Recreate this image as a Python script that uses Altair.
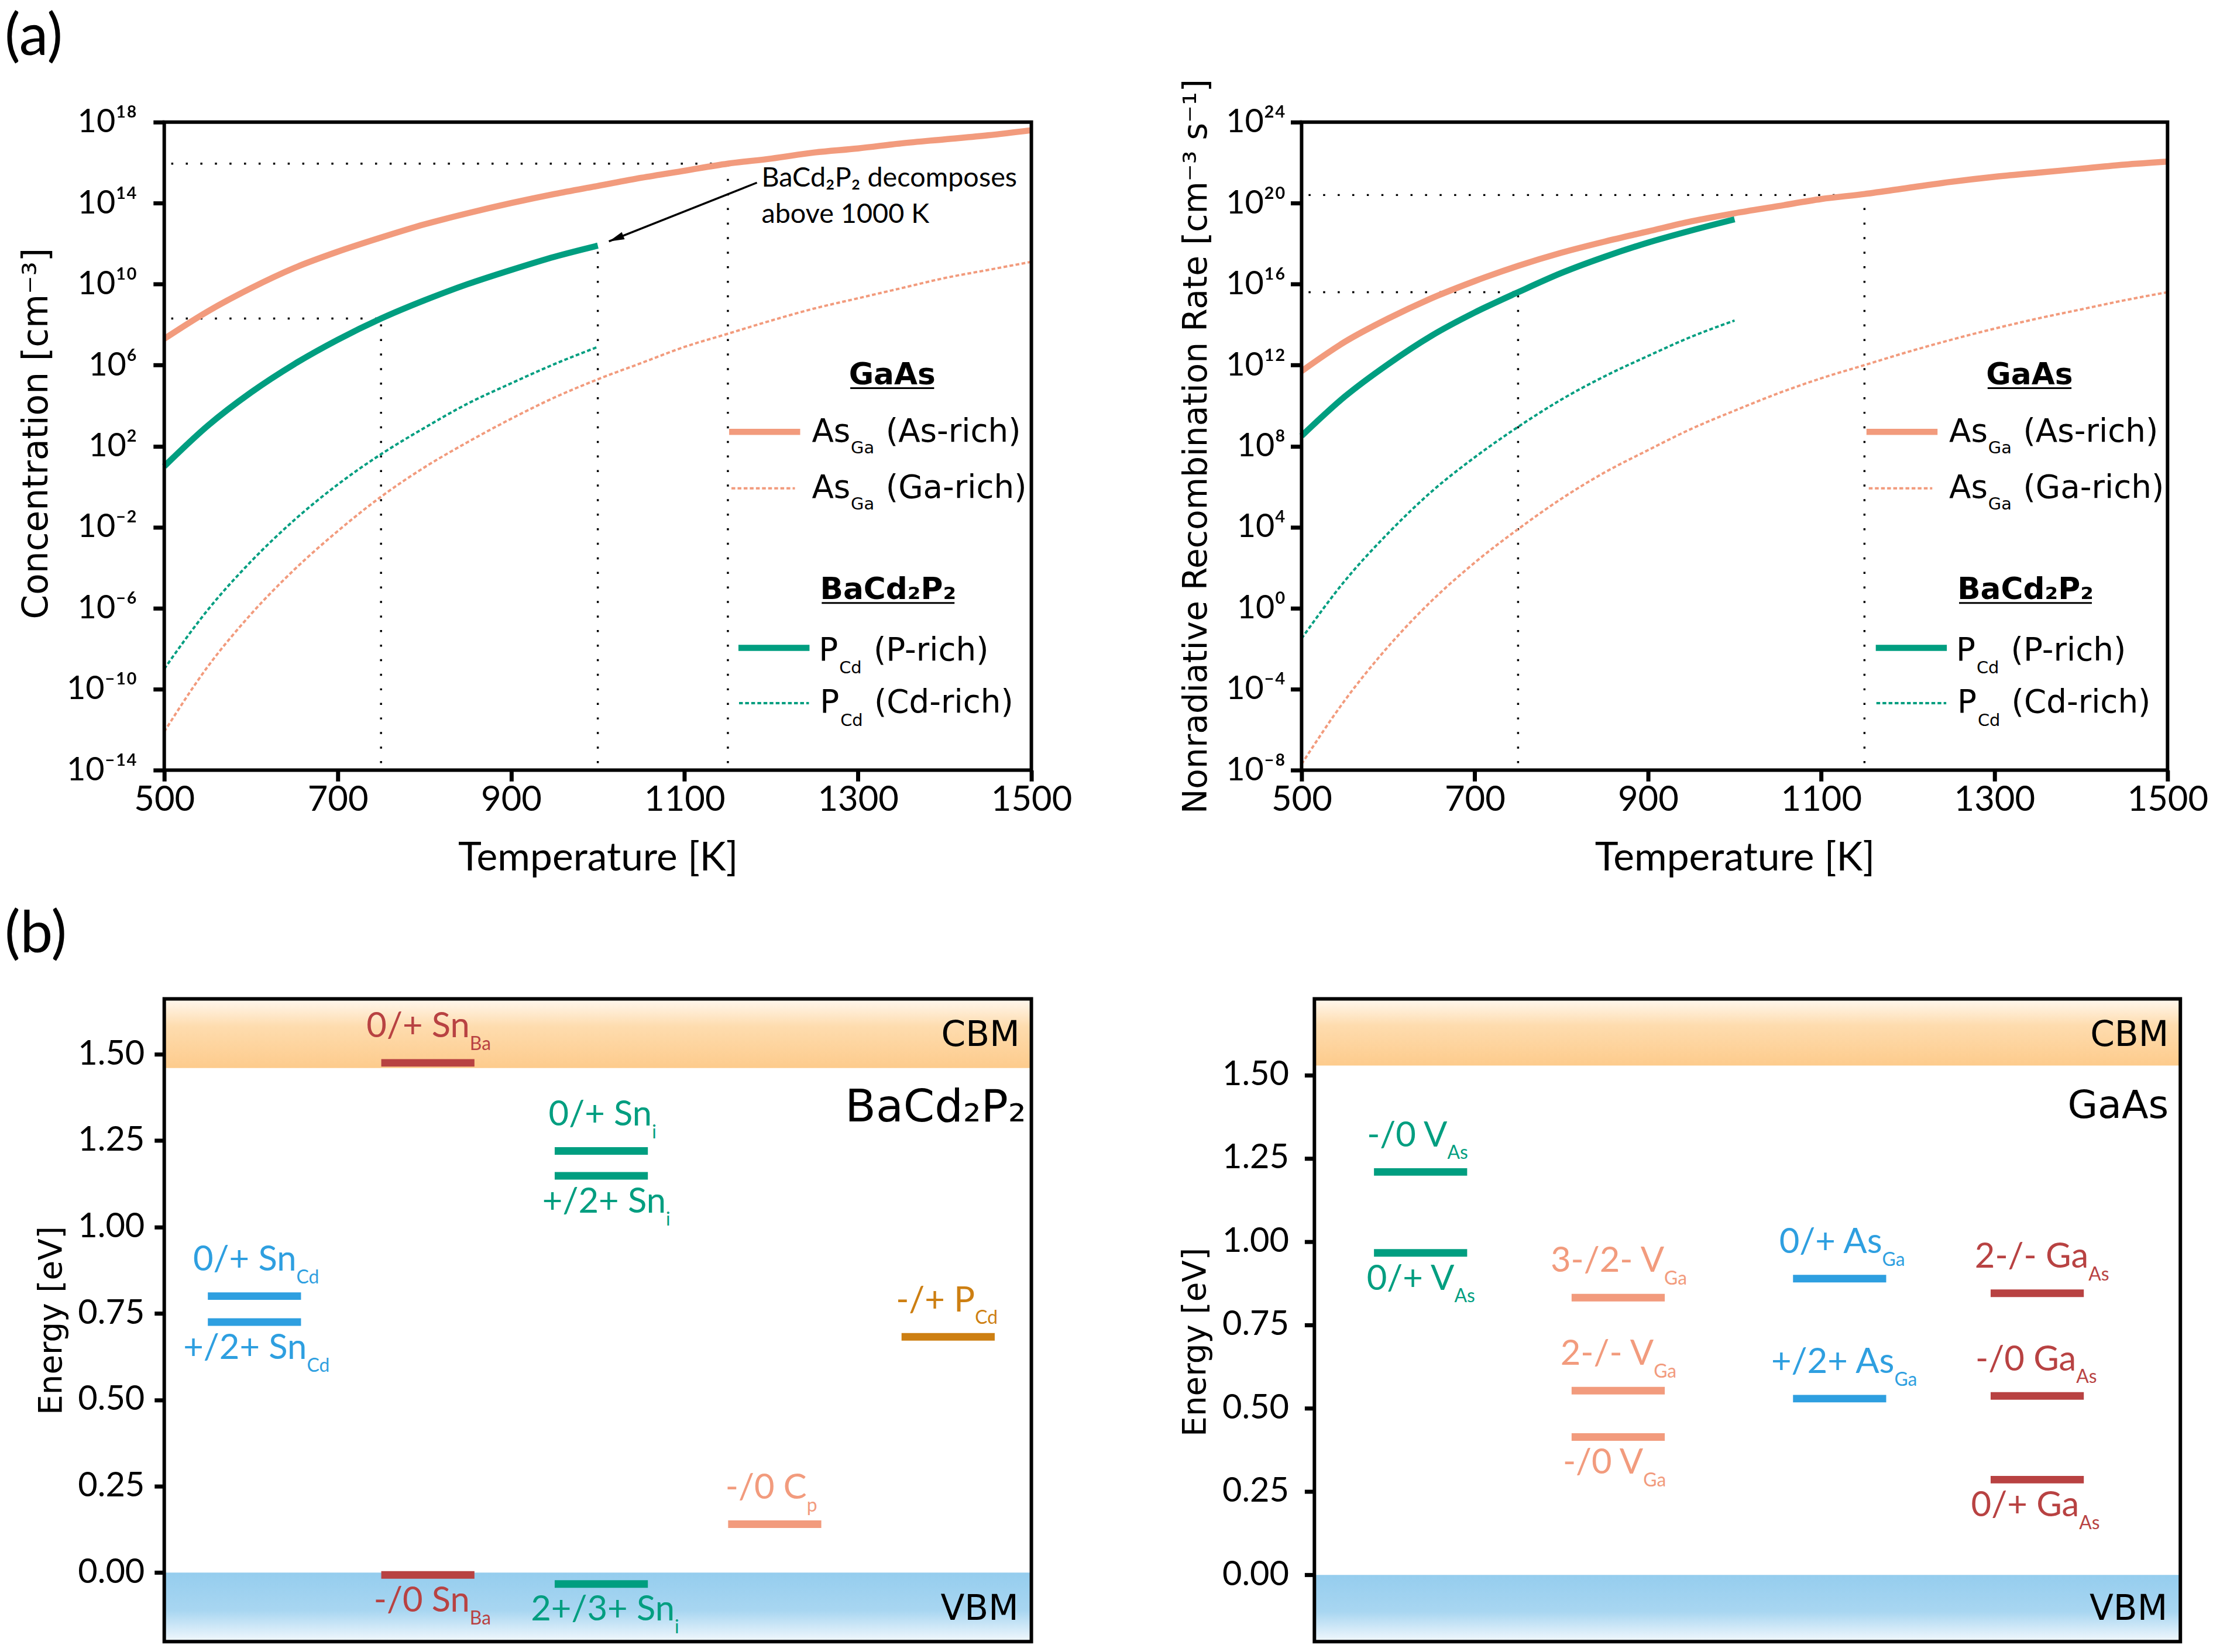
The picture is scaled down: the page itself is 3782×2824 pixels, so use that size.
import altair as alt
import pandas as pd

# ---------------- data ----------------
T_GAAS = [500, 550, 600, 650, 700, 750, 800, 850, 900, 950, 1000,
          1050, 1100, 1150, 1200, 1250, 1300, 1350, 1400, 1450, 1500]
T_BCP = [500, 550, 600, 650, 700, 750, 800, 850, 900, 950, 1000]

# log10 of defect concentration [cm^-3]
CONC_ASGA_ASRICH = [7.3, 8.65, 9.8, 10.8, 11.6, 12.3, 12.95, 13.5, 14.0, 14.45, 14.85,
                    15.25, 15.6, 15.95, 16.2, 16.5, 16.7, 16.95, 17.15, 17.35, 17.6]
CONC_ASGA_GARICH = [-12.1, -8.9, -6.3, -4.1, -2.2, -0.5, 0.95, 2.2, 3.35, 4.4, 5.3,
                    6.1, 6.9, 7.55, 8.2, 8.8, 9.3, 9.8, 10.3, 10.7, 11.1]
CONC_PCD_PRICH = [1.0, 3.0, 4.65, 6.05, 7.25, 8.3, 9.2, 10.0, 10.7, 11.35, 11.9]
CONC_PCD_CDRICH = [-9.0, -6.1, -3.7, -1.65, 0.1, 1.6, 2.9, 4.1, 5.1, 6.05, 6.9]

# log10 of nonradiative recombination rate [cm^-3 s^-1]
RATE_ASGA_ASRICH = [11.7, 13.15, 14.3, 15.3, 16.15, 16.9, 17.55, 18.1, 18.6, 19.1, 19.5,
                    19.85, 20.2, 20.45, 20.75, 21.05, 21.3, 21.5, 21.7, 21.9, 22.05]
RATE_ASGA_GARICH = [-7.7, -4.55, -1.9, 0.35, 2.25, 3.9, 5.4, 6.7, 7.8, 8.85, 9.75,
                    10.6, 11.35, 12.0, 12.65, 13.25, 13.8, 14.3, 14.75, 15.2, 15.6]
RATE_PCD_PRICH = [8.5, 10.45, 12.05, 13.45, 14.6, 15.6, 16.55, 17.35, 18.05, 18.65, 19.2]
RATE_PCD_CDRICH = [-1.5, 1.35, 3.7, 5.75, 7.45, 8.95, 10.3, 11.45, 12.45, 13.4, 14.2]

# guide markers (temperature, log10 value)
CONC_GUIDE_T = [750, 1150]
CONC_GUIDE_LOG = [8.3, 15.95]
DECOMP_T = 1000
DECOMP_LOG = 11.9
RATE_GUIDE_T = [750, 1150]
RATE_GUIDE_LOG = [15.6, 20.4]

# defect levels BaCd2P2 [eV]
BCP_GAP = 1.46
BCP_DEFECT = ["Sn_Cd", "Sn_Cd", "Sn_Ba", "Sn_Ba", "Sn_i", "Sn_i", "Sn_i", "C_p", "P_Cd"]
BCP_TRANSITION = ["0/+", "+/2+", "0/+", "-/0", "0/+", "+/2+", "2+/3+", "-/0", "-/+"]
BCP_LEVEL = [0.80, 0.725, 1.475, -0.007, 1.22, 1.148, -0.033, 0.14, 0.682]

# defect levels GaAs [eV]
GAAS_GAP = 1.528
GAAS_DEFECT = ["V_As", "V_As", "V_Ga", "V_Ga", "V_Ga", "As_Ga", "As_Ga", "Ga_As", "Ga_As", "Ga_As"]
GAAS_TRANSITION = ["-/0", "0/+", "3-/2-", "2-/-", "-/0", "0/+", "+/2+", "2-/-", "-/0", "0/+"]
GAAS_LEVEL = [1.209, 0.966, 0.832, 0.553, 0.414, 0.889, 0.529, 0.845, 0.537, 0.286]

# ---------------- styling / layout ----------------
SALMON = "#F29B7D"
GREEN = "#009E80"
BLUE = "#2E9FE0"
RED = "#B84242"
ORANGE = "#CD7F12"

BCP_COLOR = {"Sn_Cd": BLUE, "Sn_Ba": RED, "Sn_i": GREEN, "C_p": SALMON, "P_Cd": ORANGE}
GAAS_COLOR = {"V_As": GREEN, "V_Ga": SALMON, "As_Ga": BLUE, "Ga_As": RED}
BCP_COLUMN = {"Sn_Cd": 0.104, "Sn_Ba": 0.304, "Sn_i": 0.504, "C_p": 0.704, "P_Cd": 0.904}
GAAS_COLUMN = {"V_As": 0.1226, "V_Ga": 0.3508, "As_Ga": 0.6065, "Ga_As": 0.8347}
BCP_SIDE = ["above", "below", "above", "below", "above", "below", "below", "above", "above"]
BCP_SHIFT = [72, 90, 72, 72, 87, 111, 126, 55, 46]
GAAS_SIDE = ["above", "below", "above", "above", "below", "above", "above", "above", "above", "below"]
GAAS_SHIFT = [46, 58, 79, 61, 43, 73, 94, 88, 67, 72]

W_LEFT, W_RIGHT, H_TOP, H_BOT = 1489, 1487, 1113, 1104
BR_INDENT = 22
LABEL_FONT = "Lato"
TITLE_FONT = "DejaVu Sans"

ONE = pd.DataFrame({"k": [0]})
SUP = str.maketrans("0123456789-", "⁰¹²³⁴⁵⁶⁷⁸⁹⁻")


def ptext(text, x, y, size, font=TITLE_FONT, align="left", baseline="alphabetic",
          weight="normal", color="black"):
    return alt.Chart(ONE).mark_text(
        text=text, font=font, fontSize=size, align=align, baseline=baseline,
        fontWeight=weight, color=color
    ).encode(x=alt.value(x), y=alt.value(y))


def prule(x1, x2, y1, y2, color="black", width=3.0, dash=None):
    kw = dict(color=color, strokeWidth=width, strokeCap="butt")
    if dash:
        kw["strokeDash"] = dash
    return alt.Chart(ONE).mark_rule(**kw).encode(
        x=alt.value(x1), x2=alt.value(x2), y=alt.value(y1), y2=alt.value(y2))


def frame(x0, W, H):
    return alt.Chart(ONE).mark_rect(fillOpacity=0, stroke="black", strokeWidth=6).encode(
        x=alt.value(x0), x2=alt.value(x0 + W), y=alt.value(0), y2=alt.value(H))


def legend_layers():
    L = []
    L.append(ptext("GaAs", 1250, 450, 52, weight="bold", align="center"))
    L.append(prule(1178, 1322, 457, 457, width=3))
    L.append(prule(970, 1092, 532, 532, color=SALMON, width=10.5))
    L += [ptext("As", 1112, 549, 55), ptext("Ga", 1179, 569, 29), ptext("(As-rich)", 1239, 549, 55)]
    L.append(prule(974, 1083, 629, 629, color=SALMON, width=4, dash=[6.5, 4]))
    L += [ptext("As", 1112, 645, 55), ptext("Ga", 1179, 665, 29), ptext("(Ga-rich)", 1239, 645, 55)]
    L.append(ptext("BaCd₂P₂", 1243, 819, 52, weight="bold", align="center"))
    L.append(prule(1129, 1357, 826, 826, width=3))
    L.append(prule(986, 1108, 903, 903, color=GREEN, width=10.5))
    L += [ptext("P", 1124, 925, 55), ptext("Cd", 1159, 947, 29), ptext("(P-rich)", 1218, 925, 55)]
    L.append(prule(987, 1107, 998, 998, color=GREEN, width=4, dash=[6.5, 4]))
    L += [ptext("P", 1126, 1014, 55), ptext("Cd", 1161, 1037, 29), ptext("(Cd-rich)", 1219, 1014, 55)]
    return L


def top_panel(curves, guides, lo, hi, ytitle, W, H, ytitle_x, ytitle_y, ytitle_size, lab_pad, extra=()):
    exps = list(range(lo, hi + 1, 4))
    arr = ",".join("'10" + str(e).translate(SUP) + "'" for e in exps)
    lexpr = f"[{arr}][round((log(datum.value)/LN10 - ({lo}))/4)]"
    xs = alt.Scale(domain=[500, 1500], nice=False, zero=False)
    ys = alt.Scale(type="log", domain=[10.0 ** lo, 10.0 ** hi], nice=False)
    xaxis = alt.Axis(values=[500, 700, 900, 1100, 1300, 1500], format="d", title="Temperature [K]",
                     domain=False, grid=False, tickColor="black", tickWidth=7, tickSize=19,
                     labelFont=LABEL_FONT, labelFontSize=60, labelColor="black", labelPadding=3,
                     labelOverlap=False, labelFlush=False,
                     titleFont=LABEL_FONT, titleFontSize=68, titleFontWeight="normal", titleColor="black",
                     titleX=W / 2, titleY=172, titleAlign="center", titleBaseline="alphabetic")
    yaxis = alt.Axis(values=[10.0 ** e for e in exps], labelExpr=lexpr, title=ytitle,
                     domain=False, grid=False, tickColor="black", tickWidth=7, tickSize=19,
                     labelFont=LABEL_FONT, labelFontSize=56, labelColor="black", labelPadding=lab_pad,
                     labelOverlap=False, labelFlush=False,
                     titleFont=TITLE_FONT, titleFontSize=ytitle_size, titleFontWeight="normal",
                     titleColor="black", titleX=ytitle_x, titleY=ytitle_y, titleAngle=270,
                     titleAlign="center", titleBaseline="middle")

    def X(f):
        return alt.X(f"{f}:Q", scale=xs, axis=xaxis)

    def Y(f):
        return alt.Y(f"{f}:Q", scale=ys, axis=yaxis)

    gdf = pd.DataFrame(guides, columns=["T1", "T2", "v1", "v2"])
    guide = alt.Chart(gdf).mark_rule(color="black", strokeWidth=3.5, strokeDash=[3.5, 21.5],
                                     strokeDashOffset=13, strokeCap="butt").encode(
        x=X("T1"), x2="T2", y=Y("v1"), y2="v2")

    cdf = pd.DataFrame(curves)
    dashed = alt.Chart(cdf[cdf["style"] == "dash"]).mark_line(
        strokeWidth=4, strokeDash=[6.5, 4], interpolate="monotone").encode(
        x=X("T"), y=Y("v"), color=alt.Color("c:N", scale=None), detail="s:N")
    solid_s = alt.Chart(cdf[(cdf["style"] == "solid") & (cdf["c"] == SALMON)]).mark_line(
        strokeWidth=10.5, color=SALMON, interpolate="monotone").encode(x=X("T"), y=Y("v"))
    solid_g = alt.Chart(cdf[(cdf["style"] == "solid") & (cdf["c"] == GREEN)]).mark_line(
        strokeWidth=10.5, color=GREEN, interpolate="monotone").encode(x=X("T"), y=Y("v"))

    layers = [guide, dashed, solid_s, solid_g]
    for f in extra:
        layers.append(f(X, Y))
    layers += legend_layers()
    layers.append(frame(0, W, H))
    return alt.layer(*layers).properties(width=W, height=H)


def curve_rows(T, logs, name, color, style):
    return [dict(T=t, v=10.0 ** l, s=name, c=color, style=style) for t, l in zip(T, logs)]


def annotation(X, Y):
    adf = pd.DataFrame({"T": [1188.8, 1188.8], "v": [10.0 ** 14.81, 10.0 ** 13.03],
                        "t": ["BaCd₂P₂ decomposes", "above 1000 K"]})
    txt = alt.Chart(adf).mark_text(font=LABEL_FONT, fontSize=47, align="left",
                                   baseline="alphabetic", color="black").encode(
        x=X("T"), y=Y("v"), text="t:N")
    ar = pd.DataFrame({"T1": [1183.5], "T2": [1012.8], "v1": [10.0 ** 15.01], "v2": [10.0 ** 12.11]})
    line = alt.Chart(ar).mark_rule(color="black", strokeWidth=3.5).encode(
        x=X("T1"), x2="T2", y=Y("v1"), y2="v2")
    head = alt.Chart(ar).mark_point(shape="M0,0L0.5,2L-0.5,2Z", filled=True, color="black",
                                    opacity=1, size=700, angle=248.3).encode(x=X("T2"), y=Y("v2"))
    return alt.layer(txt, line, head)


def label_a(X, Y):
    return ptext("(a)", -274, -194, 100, font=LABEL_FONT, baseline="top")


# ---- top-left: concentration ----
conc_curves = (curve_rows(T_GAAS, CONC_ASGA_ASRICH, "AsGa As-rich", SALMON, "solid")
               + curve_rows(T_GAAS, CONC_ASGA_GARICH, "AsGa Ga-rich", SALMON, "dash")
               + curve_rows(T_BCP, CONC_PCD_PRICH, "PCd P-rich", GREEN, "solid")
               + curve_rows(T_BCP, CONC_PCD_CDRICH, "PCd Cd-rich", GREEN, "dash"))
conc_guides = []
for t, l in zip(CONC_GUIDE_T, CONC_GUIDE_LOG):
    conc_guides.append((500, t, 10.0 ** l, 10.0 ** l))
    conc_guides.append((t, t, 1e-14, 10.0 ** l))
conc_guides.append((DECOMP_T, DECOMP_T, 1e-14, 10.0 ** DECOMP_LOG))

tl = top_panel(conc_curves, conc_guides, -14, 18, "Concentration [cm⁻³]", W_LEFT, H_TOP,
               -219, H_TOP / 2 - 22, 60, 28, extra=(annotation, label_a))

# ---- top-right: recombination rate ----
rate_curves = (curve_rows(T_GAAS, RATE_ASGA_ASRICH, "AsGa As-rich", SALMON, "solid")
               + curve_rows(T_GAAS, RATE_ASGA_GARICH, "AsGa Ga-rich", SALMON, "dash")
               + curve_rows(T_BCP, RATE_PCD_PRICH, "PCd P-rich", GREEN, "solid")
               + curve_rows(T_BCP, RATE_PCD_CDRICH, "PCd Cd-rich", GREEN, "dash"))
rate_guides = []
for t, l in zip(RATE_GUIDE_T, RATE_GUIDE_LOG):
    rate_guides.append((500, t, 10.0 ** l, 10.0 ** l))
    rate_guides.append((t, t, 1e-8, 10.0 ** l))

tr = top_panel(rate_curves, rate_guides, -8, 24, "Nonradiative Recombination Rate [cm⁻³ s⁻¹]",
               W_RIGHT, H_TOP, -181, H_TOP / 2, 57, 9)


# ---------------- bottom panels ----------------
CBM_GRAD = alt.LinearGradient(gradient="linear", x1=0, x2=0, y1=0, y2=1, stops=[
    alt.GradientStop(color="#FFF8EF", offset=0),
    alt.GradientStop(color="#FEDCAE", offset=0.4),
    alt.GradientStop(color="#FDCB8C", offset=1)])
VBM_GRAD = alt.LinearGradient(gradient="linear", x1=0, x2=0, y1=0, y2=1, stops=[
    alt.GradientStop(color="#95CDEE", offset=0),
    alt.GradientStop(color="#A8D6F1", offset=0.55),
    alt.GradientStop(color="#F2F8FD", offset=1)])


def bottom_panel(defects, transitions, levels, gap, ymax, columns, colors, sides, shifts,
                 W, H, name, name_size, name_inset, name_base, title_x, title_y, lab_pad,
                 indent=0, panel_label=None):
    ys = alt.Scale(domain=[-0.2, ymax], nice=False, zero=False)
    xs = alt.Scale(domain=[-indent / W, 1], nice=False, zero=False)
    yaxis = alt.Axis(values=[0, 0.25, 0.5, 0.75, 1.0, 1.25, 1.5], format=".2f", title="Energy [eV]",
                     domain=False, grid=False, tickColor="black", tickWidth=7, tickSize=17,
                     labelFont=LABEL_FONT, labelFontSize=58, labelColor="black", labelPadding=lab_pad,
                     labelOverlap=False, labelFlush=False, offset=-indent,
                     titleFont=TITLE_FONT, titleFontSize=55, titleFontWeight="normal",
                     titleColor="black", titleX=title_x, titleY=title_y, titleAngle=270,
                     titleAlign="center", titleBaseline="middle")

    def X(f):
        return alt.X(f"{f}:Q", scale=xs, axis=None)

    def Y(f):
        return alt.Y(f"{f}:Q", scale=ys, axis=yaxis)

    rows = []
    for d, t, e, s, sh in zip(defects, transitions, levels, sides, shifts):
        sp, sub = d.split("_")
        c = columns[d]
        rows.append(dict(x1=c - 80 / W, x2=c + 80 / W, E=e, main=f"{t} {sp}", sub=sub,
                         xb=c + sh / W, side=s, col=colors[d]))
    df = pd.DataFrame(rows)
    R = indent + W

    cbm = alt.Chart(pd.DataFrame({"y": [gap], "y2": [ymax]})).mark_rect(color=CBM_GRAD).encode(
        x=alt.value(indent), x2=alt.value(R), y=Y("y"), y2="y2")
    vbm = alt.Chart(pd.DataFrame({"y": [0.0], "y2": [-0.2]})).mark_rect(color=VBM_GRAD).encode(
        x=alt.value(indent), x2=alt.value(R), y=Y("y"), y2="y2")
    bars = alt.Chart(df).mark_rule(strokeWidth=13, strokeCap="butt").encode(
        x=X("x1"), x2="x2", y=Y("E"), color=alt.Color("col:N", scale=None))
    layers = [cbm, vbm, bars]
    for side, dy in [("above", -44), ("below", 63)]:
        part = df[df["side"] == side]
        layers.append(alt.Chart(part).mark_text(align="right", baseline="alphabetic", font=LABEL_FONT,
                                                fontSize=60, dy=dy).encode(
            x=X("xb"), y=Y("E"), text="main:N", color=alt.Color("col:N", scale=None)))
        layers.append(alt.Chart(part).mark_text(align="left", baseline="alphabetic", font=LABEL_FONT,
                                                fontSize=32, dy=dy + 22).encode(
            x=X("xb"), y=Y("E"), text="sub:N", color=alt.Color("col:N", scale=None)))
    layers.append(ptext("CBM", R - 20, 81, 60, align="right"))
    layers.append(ptext("VBM", R - 22, H - 38, 60, align="right"))
    layers.append(ptext(name, R - name_inset, name_base, name_size, align="right"))
    if panel_label:
        layers.append(ptext(panel_label, -274, -159, 100, font=LABEL_FONT, baseline="top"))
    layers.append(frame(indent, W, H))
    return alt.layer(*layers).properties(width=R, height=H)


bl = bottom_panel(BCP_DEFECT, BCP_TRANSITION, BCP_LEVEL, BCP_GAP, BCP_GAP + 0.2, BCP_COLUMN,
                  BCP_COLOR, BCP_SIDE, BCP_SHIFT, W_LEFT, H_BOT, "BaCd₂P₂", 77, 9, 210,
                  -194, H_BOT / 2, 17, panel_label="(b)")
br = bottom_panel(GAAS_DEFECT, GAAS_TRANSITION, GAAS_LEVEL, GAAS_GAP, GAAS_GAP + 0.2, GAAS_COLUMN,
                  GAAS_COLOR, GAAS_SIDE, GAAS_SHIFT, W_RIGHT, H_BOT, "GaAs", 67, 20, 204,
                  -205, H_BOT / 2 + 37, 27, indent=BR_INDENT)

chart = alt.concat(tl, tr, bl, br, columns=2, bounds="flush",
                   spacing={"row": 393, "column": 464},
                   padding={"left": 0, "top": 0, "right": 0, "bottom": 0},
                   background="white").configure_view(strokeWidth=0)

chart.save("out.html", embed_options={"renderer": "svg", "actions": False})
